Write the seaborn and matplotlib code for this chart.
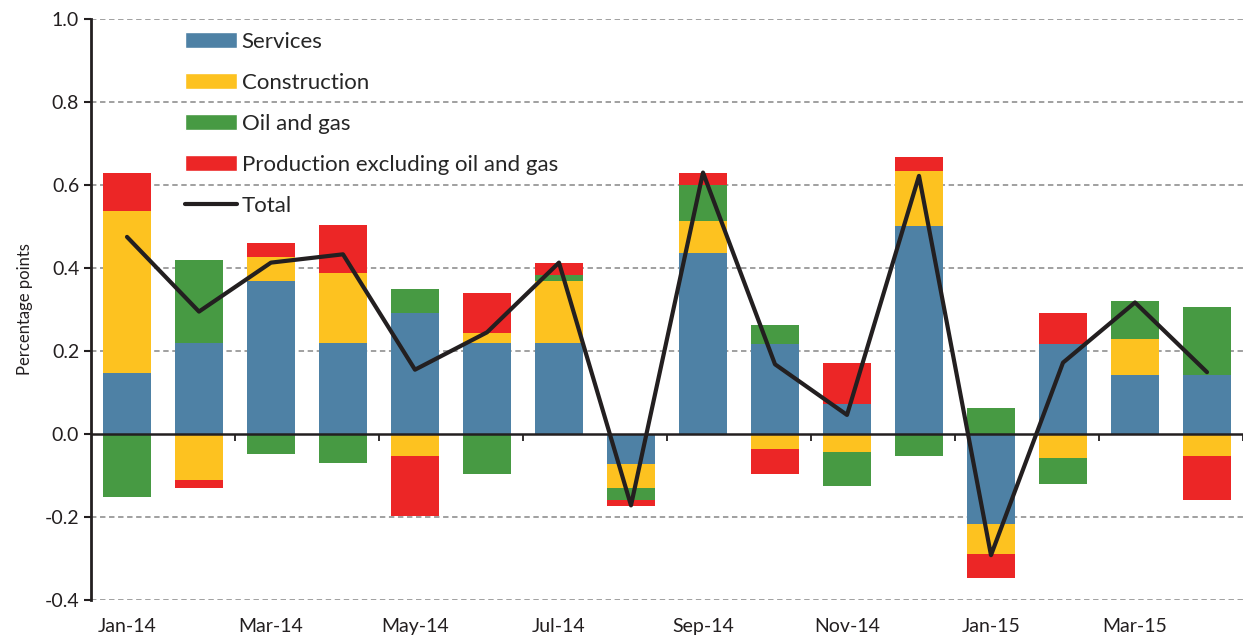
import numpy as np
import matplotlib
matplotlib.use("Agg")
import matplotlib.pyplot as plt
import seaborn as sns
from matplotlib.patches import Patch
from matplotlib.lines import Line2D

# contributions to monthly growth, percentage points
months = ["Jan-14", "Feb-14", "Mar-14", "Apr-14", "May-14", "Jun-14", "Jul-14", "Aug-14",
          "Sep-14", "Oct-14", "Nov-14", "Dec-14", "Jan-15", "Feb-15", "Mar-15", "Apr-15"]
services = [0.147, 0.220, 0.369, 0.220, 0.292, 0.220, 0.220, -0.072,
            0.435, 0.216, 0.072, 0.502, -0.217, 0.216, 0.142, 0.142]
construction = [0.390, -0.110, 0.058, 0.168, -0.052, 0.024, 0.149, -0.059,
                0.078, -0.035, -0.044, 0.132, -0.072, -0.059, 0.087, -0.053]
oil_gas = [-0.152, 0.200, -0.048, -0.070, 0.057, -0.096, 0.014, -0.028,
           0.087, 0.047, -0.081, -0.053, 0.062, -0.061, 0.091, 0.164]
production = [0.092, -0.020, 0.033, 0.116, -0.146, 0.096, 0.028, -0.014,
              0.028, -0.061, 0.100, 0.033, -0.057, 0.076, -0.002, -0.106]
total = [0.475, 0.295, 0.413, 0.433, 0.155, 0.245, 0.413, -0.172,
         0.630, 0.168, 0.046, 0.622, -0.292, 0.172, 0.317, 0.149]

series = [("Services", services, "#4E81A5"),
          ("Construction", construction, "#FDC220"),
          ("Oil and gas", oil_gas, "#479A43"),
          ("Production excluding oil and gas", production, "#EC2626")]

sns.set_theme(style="white")
plt.rcParams["font.family"] = ["Lato", "DejaVu Sans"]
plt.rcParams["axes.unicode_minus"] = False

fig = plt.figure(figsize=(12.43, 6.42), dpi=100)
ax = fig.add_axes([0.0732, 0.0654, 0.9268, 0.905])

x = np.arange(len(months))
vals = np.array([s[1] for s in series])
pos_cum = np.cumsum(np.clip(vals, 0, None), axis=0)
neg_cum = np.cumsum(np.clip(vals, None, 0), axis=0)

# stack by overdrawing cumulative bars, outermost layer first
for k in range(len(series) - 1, -1, -1):
    name, _, color = series[k]
    for cum in (pos_cum, neg_cum):
        sns.barplot(x=x, y=cum[k], color=color, width=0.66, saturation=1,
                    linewidth=0, ax=ax, native_scale=True)

sns.lineplot(x=x, y=total, color="#231F20", linewidth=3, ax=ax)

ax.set_xlim(-0.5, len(months) - 0.5)
ax.set_ylim(-0.4, 1.0)
ax.set_yticks(np.arange(-0.4, 1.01, 0.2))
ax.set_yticklabels([f"{v:.1f}" for v in np.arange(-0.4, 1.01, 0.2)], fontsize=14, color="#231F20")
for v in np.arange(-0.4, 1.01, 0.2):
    if abs(v) > 1e-9:
        ax.axhline(v, color="#999999", linestyle=(0, (3, 2)), linewidth=1.3, zorder=0)
ax.axhline(0, color="#231F20", linewidth=1.8, zorder=5)

ax.tick_params(axis="y", direction="out", length=5, width=1.5, left=True, color="#231F20")
ax.set_xticks(x[::2])
ax.set_xticklabels(months[::2], fontsize=14, color="#231F20")
ax.tick_params(axis="x", length=0, pad=13)

sec = ax.secondary_xaxis(0.4 / 1.4)
sec.set_xticks(x[1::2] + 0.5)
sec.set_xticklabels([])
sec.tick_params(axis="x", direction="out", length=5, width=1.3, color="#231F20")
sec.spines["bottom"].set_visible(False)

for side in ["top", "right", "bottom"]:
    ax.spines[side].set_visible(False)
ax.spines["left"].set_color("#231F20")
ax.spines["left"].set_linewidth(2)

ax.set_ylabel("Percentage points", fontsize=12, color="#231F20", labelpad=8)
ax.set_xlabel("")

handles = [Patch(facecolor=c, label=n) for n, _, c in series]
handles.append(Line2D([0], [0], color="#231F20", linewidth=3, label="Total"))
ax.legend(handles=handles, loc="upper left", bbox_to_anchor=(0.068, 1.005), frameon=False,
          fontsize=16, handlelength=2.35, handleheight=0.75, labelspacing=0.95,
          handletextpad=0.2, borderaxespad=0.3)

fig.savefig("out.png", dpi=100)
